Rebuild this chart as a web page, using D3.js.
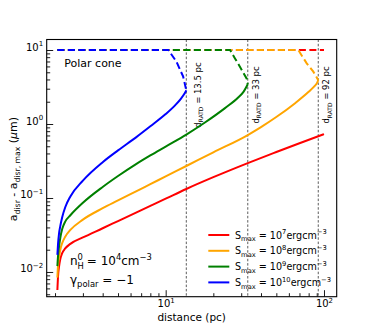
<!DOCTYPE html>
<html>
<head>
<meta charset="utf-8">
<script src="https://cdn.jsdelivr.net/npm/d3@7"></script>
<style>
  body { margin: 0; background: #fff; }
  text { font-family: "DejaVu Sans", sans-serif; fill: #000; }
</style>
</head>
<body>
<div id="plot-container"></div>
<script>
// values: distance (pc) and a_disr - a_disr,max (um)
const distRed    = [2.07, 2.09, 2.12, 2.16, 2.22, 2.32, 2.5, 3, 4, 5, 6.5, 8, 10, 13.5, 20, 33, 50, 70, 100];
const aRed       = [0.0057, 0.0088, 0.0118, 0.015, 0.018, 0.0208, 0.024, 0.0293, 0.039, 0.0488, 0.0635, 0.0782, 0.0978, 0.1324, 0.191, 0.296, 0.418, 0.55, 0.73];
const distOrange = [2.07, 2.09, 2.12, 2.16, 2.22, 2.32, 2.5, 3, 4, 5, 6.5, 8, 10, 13.5, 20, 33, 40, 49.7, 66, 80, 85.6, 90.6, 92];
const aOrange    = [0.0084, 0.0125, 0.0158, 0.02, 0.0245, 0.03, 0.037, 0.051, 0.0727, 0.0926, 0.1229, 0.1538, 0.1957, 0.2706, 0.4137, 0.71, 0.908, 1.232, 1.928, 2.723, 3.133, 3.627, 3.91];
const distGreen  = [2.07, 2.09, 2.12, 2.16, 2.22, 2.32, 2.5, 3, 4, 5, 6.5, 8, 10, 13.5, 17.7, 23.7, 28.7, 31, 33];
const aGreen     = [0.012, 0.0165, 0.022, 0.029, 0.038, 0.048, 0.0584, 0.0861, 0.1408, 0.198, 0.287, 0.376, 0.496, 0.72, 1.048, 1.64, 2.28, 2.72, 3.45];
const distBlue   = [2.07, 2.09, 2.12, 2.16, 2.22, 2.32, 2.5, 3, 4, 5, 6.5, 8, 10, 11.5, 12.5, 13, 13.5];
const aBlue      = [0.017, 0.024, 0.033, 0.042, 0.055, 0.075, 0.105, 0.172, 0.305, 0.44, 0.66, 0.93, 1.36, 1.80, 2.20, 2.48, 2.85];

// dashed upper branches
const capDistRed    = [2.07, 100];
const capARed       = [10, 10];
const capDistOrange = [2.07, 68.8, 77.8, 85.6, 92];
const capAOrange    = [10, 10, 6.6, 5.1, 3.91];
const capDistGreen  = [2.07, 25.5, 27.4, 29.5, 32.5, 33];
const capAGreen     = [10, 10, 7.7, 5.9, 4.1, 3.45];
const capDistBlue   = [2.07, 10.4, 11.7, 12.9, 13.5];
const capABlue      = [10, 10, 6.95, 4.36, 2.85];

const dRATD = [13.5, 33, 92];
const sExp = ["7", "8", "9", "10"];
const yTickExp = [-2, -1, 0, 1];
const xTickExp = [1, 2];

const W = 374, H = 334;
const L = 46.7, R = 336.7, T = 39.5, B = 296.7;

const svg = d3.select("#plot-container").append("svg")
    .attr("width", W).attr("height", H);

const x = d3.scaleLog().domain([1.772, 120.3]).range([L, R]);
const y = d3.scaleLog().domain([0.004634, 13.87]).range([B, T]);

// little helper for sub/superscripts
function rich(sel, parts, size) {
    let shift = 0;
    parts.forEach(p => {
        const target = p.sub ? size * 0.3 : p.sup ? -size * 0.42 : 0;
        sel.append("tspan")
            .attr("dy", target - shift)
            .attr("dx", p.dx || 0)
            .style("font-size", (p.sub || p.sup ? size * 0.7 : size) + "px")
            .style("font-style", p.it ? "italic" : null)
            .text(p.t);
        shift = target;
    });
}

svg.append("clipPath").attr("id", "clip")
    .append("rect").attr("x", L).attr("y", T).attr("width", R - L).attr("height", B - T);

// minor ticks
const yMinor = [];
for (let e = -3; e <= 1; e++) for (let k = 2; k <= 9; k++) {
    const v = k * Math.pow(10, e);
    if (v > y.domain()[0] && v < y.domain()[1]) yMinor.push(v);
}
const xMinor = [];
for (let e = 0; e <= 2; e++) for (let k = 2; k <= 9; k++) {
    const v = k * Math.pow(10, e);
    if (v > x.domain()[0] && v < x.domain()[1]) xMinor.push(v);
}

svg.append("g").attr("transform", `translate(${L},0)`)
    .call(d3.axisLeft(y).tickValues(yMinor).tickSize(-3.5).tickSizeOuter(0).tickFormat(""));
svg.append("g").attr("transform", `translate(0,${B})`)
    .call(d3.axisBottom(x).tickValues(xMinor).tickSize(-3.5).tickSizeOuter(0).tickFormat(""));

const yAx = svg.append("g").attr("transform", `translate(${L},0)`)
    .call(d3.axisLeft(y).tickValues(yTickExp.map(e => Math.pow(10, e)))
        .tickSize(-6.5).tickSizeOuter(0).tickPadding(3.5).tickFormat(""));
yAx.selectAll(".tick text").each(function(d) {
    const e = Math.round(Math.log10(d));
    const t = d3.select(this).attr("dy", "0.35em").style("font-size", "10px");
    rich(t, [{t: "10"}, {t: e < 0 ? "\u2212" + (-e) : String(e), sup: true}], 10);
});

const xAx = svg.append("g").attr("transform", `translate(0,${B})`)
    .call(d3.axisBottom(x).tickValues(xTickExp.map(e => Math.pow(10, e)))
        .tickSize(-6.5).tickSizeOuter(0).tickPadding(3.5).tickFormat(""));
xAx.selectAll(".tick text").each(function(d) {
    const e = Math.round(Math.log10(d));
    const t = d3.select(this).attr("dy", "0").attr("y", 10.5).style("font-size", "10px");
    rich(t, [{t: "10"}, {t: String(e), sup: true}], 10);
});

svg.selectAll(".domain").remove();
svg.selectAll(".tick line").attr("stroke", "#000").attr("stroke-width", 0.9);

// vertical d_RATD markers
svg.selectAll("line.ratd")
    .data(dRATD)
    .enter().append("line")
    .attr("class", "ratd")
    .attr("x1", d => x(d)).attr("x2", d => x(d))
    .attr("y1", T).attr("y2", B)
    .attr("stroke", "#333").attr("stroke-width", 0.8)
    .attr("stroke-dasharray", "2.5,1.8");

const ratdShift = [14.2, 11, 11.2];
dRATD.forEach((d, i) => {
    const bx = x(d) + ratdShift[i];
    const t = svg.append("text")
        .attr("transform", `translate(${bx},95) rotate(-90)`)
        .attr("text-anchor", "middle")
        .style("font-size", "8.5px");
    rich(t, [{t: "d"}, {t: "RATD", sub: true}, {t: " = " + d + " pc"}], 8.5);
});

// curves
const series = [
    {color: "red",    dist: distRed,    a: aRed,    cd: capDistRed,    ca: capARed},
    {color: "orange", dist: distOrange, a: aOrange, cd: capDistOrange, ca: capAOrange},
    {color: "green",  dist: distGreen,  a: aGreen,  cd: capDistGreen,  ca: capAGreen},
    {color: "blue",   dist: distBlue,   a: aBlue,   cd: capDistBlue,   ca: capABlue}
];

const plot = svg.append("g").attr("clip-path", "url(#clip)");
const solid = d3.line().x(d => x(d[0])).y(d => y(d[1])).curve(d3.curveMonotoneX);
const dashed = d3.line().x(d => x(d[0])).y(d => y(d[1]));

series.forEach(s => {
    plot.append("path")
        .datum(s.dist.map((d, i) => [d, s.a[i]]))
        .attr("fill", "none").attr("stroke", s.color).attr("stroke-width", 2)
        .attr("d", solid);
    plot.append("path")
        .datum(s.cd.map((d, i) => [d, s.ca[i]]))
        .attr("fill", "none").attr("stroke", s.color).attr("stroke-width", 2)
        .attr("stroke-dasharray", "7,3.5")
        .attr("d", dashed);
});

// frame
svg.append("rect").attr("x", L).attr("y", T).attr("width", R - L).attr("height", B - T)
    .attr("fill", "none").attr("stroke", "#000").attr("stroke-width", 1.1);

// texts
svg.append("text").attr("x", 64.3).attr("y", 66.7).style("font-size", "11px").text("Polar cone");

const n0 = svg.append("text").attr("x", 70).attr("y", 265).style("font-size", "12px");
rich(n0, [{t: "n"}, {t: "H", sub: true}, {t: "0", sup: true, dx: -6.3},
          {t: " = 10"}, {t: "4", sup: true}, {t: "cm"}, {t: "\u22123", sup: true}], 12);

const gp = svg.append("text").attr("x", 70).attr("y", 283.5).style("font-size", "12px");
rich(gp, [{t: "\u03b3"}, {t: "polar", sub: true}, {t: " = \u22121"}], 12);

// legend
series.forEach((s, i) => {
    const ly = 235 + i * 15.8;
    svg.append("line").attr("x1", 208.3).attr("x2", 229.3).attr("y1", ly).attr("y2", ly)
        .attr("stroke", s.color).attr("stroke-width", 2);
    const t = svg.append("text").attr("x", 235).attr("y", ly + 3.5).style("font-size", "9.6px");
    rich(t, [{t: "S"}, {t: "max", sub: true}, {t: " = 10"}, {t: sExp[i], sup: true},
             {t: "ergcm"}, {t: "\u22123", sup: true}], 9.6);
});

// axis labels
const yl = svg.append("text")
    .attr("transform", `translate(17,169) rotate(-90)`)
    .attr("text-anchor", "middle").style("font-size", "11px");
rich(yl, [{t: "a"}, {t: "disr", sub: true}, {t: " - a"}, {t: "disr, max", sub: true},
          {t: " ("}, {t: "\u03bc", it: true}, {t: "m)"}], 11);

svg.append("text").attr("x", (L + R) / 2).attr("y", 320.5)
    .attr("text-anchor", "middle").style("font-size", "10.5px").text("distance (pc)");
</script>
</body>
</html>
